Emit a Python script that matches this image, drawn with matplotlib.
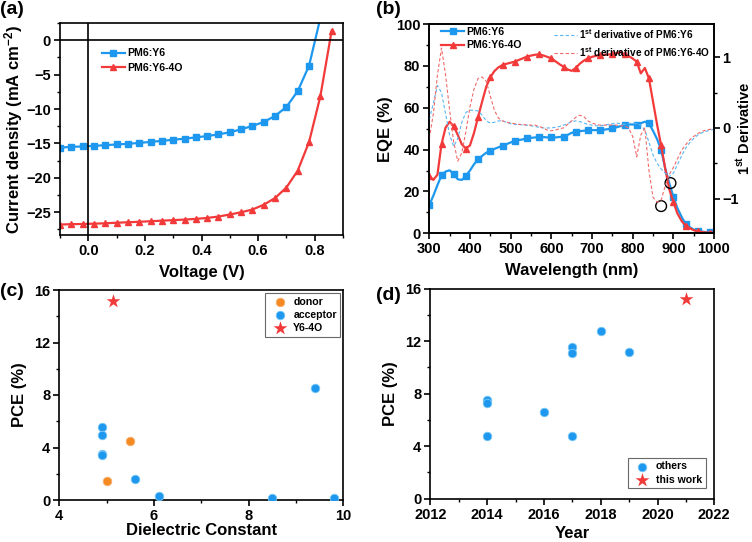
import numpy as np
import matplotlib
matplotlib.use("Agg")
import matplotlib.pyplot as plt
from matplotlib.ticker import MultipleLocator

plt.rcParams['font.family'] = ['Liberation Sans', 'DejaVu Sans']
plt.rcParams['font.weight'] = 'bold'
plt.rcParams['axes.labelweight'] = 'bold'
plt.rcParams['mathtext.default'] = 'regular'
plt.rcParams['axes.linewidth'] = 1.2
plt.rcParams['xtick.direction'] = 'out'
plt.rcParams['ytick.direction'] = 'out'

BLUE = '#1E98EE'
RED = '#F23A3A'
ORANGE = '#F58A22'
BLUE_D = '#5AB6F2'
RED_D = '#F26A6A'

# ---------------- (a) J-V data ----------------
voltage = [-0.10, -0.06, -0.02, 0.02, 0.06, 0.10, 0.14, 0.18, 0.22, 0.26, 0.30, 0.34,
           0.38, 0.42, 0.46, 0.50, 0.54, 0.58, 0.62, 0.66, 0.70, 0.74, 0.78, 0.82, 0.86]
j_y6 = [-15.6, -15.5, -15.43, -15.35, -15.25, -15.15, -15.05, -14.92, -14.78, -14.62, -14.47, -14.3,
        -14.12, -13.92, -13.68, -13.38, -12.95, -12.45, -11.88, -11.0, -9.7, -7.4, -3.7, 3.2, np.nan]
j_y64o = [-26.78, -26.73, -26.7, -26.65, -26.6, -26.52, -26.45, -26.38, -26.3, -26.22, -26.14, -26.06,
          -25.96, -25.82, -25.62, -25.32, -25.0, -24.6, -23.9, -22.93, -21.4, -18.95, -14.8, -8.15, 1.4]

# ---------------- (b) EQE data ----------------
wavelength = list(range(300, 1001, 10))
eqe_y6 = [13.5, 18, 23, 27.7, 29.5, 30.1, 28.3, 25.8, 25.5, 27.5, 30, 33, 35.3, 37, 38.5, 39.4,
          40.3, 41.1, 41.8, 42.6, 43.4, 44, 44.5, 44.9, 45.3, 45.6, 45.8, 46, 46, 45.8, 45.8, 45.8,
          46, 46.2, 47, 48, 48.5, 48.8, 49, 49.2, 49.3, 49.3, 49.3, 49.5, 49.8, 50.1, 50.6, 51.2,
          51.7, 52, 52, 51.7, 52.6, 53.3, 52.5, 49, 45, 40, 31, 24, 17.5, 12, 8, 4.5, 3, 1.8,
          1.1, 0.8, 0.6, 0.5, 0.4]
eqe_y64o = [27.5, 25.5, 28, 42.6, 50.5, 53.3, 51.2, 47, 42.5, 40.5, 42, 48, 55.6, 63, 70, 74.5,
            77.5, 79.3, 80.4, 81, 81.5, 82, 82.8, 83.6, 84.4, 84.9, 85.3, 85.5, 85, 84.3, 83.6, 82.2,
            80.8, 79.6, 78.3, 77.6, 79, 81, 82.5, 83.6, 84.3, 84.8, 85.2, 85.3, 85.4, 85.6, 86, 86.7,
            85.5, 84.7, 83.5, 82, 76.4, 79, 74, 63, 52, 42, 31, 21, 15, 9.5, 6, 3.7, 2.5, 1.5,
            1, 0.6, 0.4, 0.3, 0.3]
deriv_y6 = [0.12, 0.35, 0.6, 0.5, 0.2, -0.1, -0.26, -0.15, 0.08, 0.22, 0.25, 0.25, 0.24, 0.18, 0.1,
            0.07, 0.08, 0.1, 0.1, 0.08, 0.06, 0.05, 0.05, 0.04, 0.04, 0.03, 0.02, 0.01, 0.0, 0.0,
            0.0, 0.01, 0.02, 0.04, 0.06, 0.09, 0.1, 0.09, 0.07, 0.05, 0.04, 0.03, 0.03, 0.04, 0.05,
            0.06, 0.07, 0.06, 0.05, 0.06, 0.07, 0.06, 0.04, -0.03, -0.2, -0.38, -0.5, -0.58, -0.64,
            -0.69, -0.64, -0.52, -0.4, -0.29, -0.21, -0.15, -0.1, -0.07, -0.05, -0.03, -0.02]
deriv_y64o = [-0.15, 0.2, 0.75, 1.13, 0.75, 0.25, -0.2, -0.47, -0.35, -0.05, 0.3, 0.55, 0.7, 0.72,
              0.66, 0.45, 0.25, 0.14, 0.1, 0.08, 0.07, 0.06, 0.05, 0.05, 0.04, 0.04, 0.04, 0.02, 0.0,
              -0.03, -0.04, -0.03, -0.01, 0.0, 0.05, 0.1, 0.15, 0.18, 0.16, 0.1, 0.07, 0.05, 0.04,
              0.04, 0.04, 0.04, 0.04, 0.03, 0.03, 0.0, -0.12, -0.41, -0.1, 0.0, -0.6, -0.98, -1.05,
              -1.02, -0.82, -0.66, -0.56, -0.44, -0.32, -0.24, -0.17, -0.12, -0.08, -0.05, -0.03,
              -0.02, -0.01]
circle_wl = [870, 893]
circle_eqe = [13, 24]

# ---------------- (c) data ----------------
donor_k = [5.5, 5.0]
donor_pce = [4.52, 1.45]
acceptor_k = [4.9, 4.9, 4.9, 4.9, 5.59, 6.1, 8.5, 9.8, 9.4]
acceptor_pce = [5.56, 4.95, 3.52, 3.4, 1.57, 0.3, 0.12, 0.12, 8.5]
y64o_k = [5.13]
y64o_pce = [15.2]

# ---------------- (d) data ----------------
others_year = [2014, 2014, 2014, 2016, 2017, 2017, 2017, 2018, 2019]
others_pce = [4.8, 7.5, 7.27, 6.58, 4.8, 11.53, 11.1, 12.8, 11.2]
thiswork_year = [2021]
thiswork_pce = [15.2]

W, H = 752, 542
fig = plt.figure(figsize=(W / 100, H / 100), dpi=100)


def box(l, r, t, b):
    return [l / W, 1 - b / H, (r - l) / W, (b - t) / H]


TICK_FS = 10.5
LAB_FS = 12
LEG = {'weight': 'bold', 'size': 7.6}
LEG2 = {'weight': 'bold', 'size': 7.2}


def style(ax):
    ax.tick_params(axis='both', which='major', length=4, width=1.2, labelsize=TICK_FS, pad=2.5)
    ax.tick_params(axis='both', which='minor', length=2.5, width=1.0)
    for lab in ax.get_xticklabels() + ax.get_yticklabels():
        lab.set_fontweight('bold')


# (a)
axa = fig.add_axes(box(60, 343, 23, 235))
axa.plot(voltage, j_y6, color=BLUE, lw=1.6, marker='s', ms=4.5, label='PM6:Y6')
axa.plot(voltage, j_y64o, color=RED, lw=1.6, marker='^', ms=5, label='PM6:Y6-4O')
axa.axhline(0, color='black', lw=1.2)
axa.axvline(0, color='black', lw=1.2)
axa.set_xlim(-0.1, 0.9)
axa.set_ylim(-28.3, 2.5)
axa.xaxis.set_major_locator(MultipleLocator(0.2))
axa.xaxis.set_minor_locator(MultipleLocator(0.1))
axa.yaxis.set_major_locator(MultipleLocator(5))
axa.yaxis.set_minor_locator(MultipleLocator(2.5))
axa.xaxis.set_major_formatter(plt.FuncFormatter(lambda v, p: f'{v:.1f}'))
axa.set_xlabel('Voltage (V)', fontsize=LAB_FS, labelpad=5)
axa.set_ylabel('Current density (mA cm$^{-2}$)', fontsize=LAB_FS, labelpad=1)
style(axa)
axa.legend(loc='upper left', bbox_to_anchor=(0.147, 0.88), frameon=False,
           prop=LEG, handlelength=2.2, labelspacing=0.45,
           handletextpad=0.2, borderaxespad=0, borderpad=0)

# (b)
axb = fig.add_axes(box(429.3, 714, 24, 233.3))
l1, = axb.plot(wavelength, eqe_y6, color=BLUE, lw=1.6, marker='s', ms=4.5, markevery=3,
               label='PM6:Y6')
l2, = axb.plot(wavelength, eqe_y64o, color=RED, lw=1.6, marker='^', ms=5, markevery=3,
               label='PM6:Y6-4O')
axb.scatter(circle_wl, circle_eqe, s=60, facecolors='none', edgecolors='black', lw=1.0, zorder=5)
axb.set_xlim(300, 1000)
axb.set_ylim(0, 100)
axb.xaxis.set_major_locator(MultipleLocator(100))
axb.xaxis.set_minor_locator(MultipleLocator(50))
axb.yaxis.set_major_locator(MultipleLocator(20))
axb.yaxis.set_minor_locator(MultipleLocator(10))
axb.set_xlabel('Wavelength (nm)', fontsize=LAB_FS, labelpad=5)
axb.set_ylabel('EQE (%)', fontsize=LAB_FS, labelpad=2)
style(axb)
axb2 = axb.twinx()
l3, = axb2.plot(wavelength, deriv_y6, color=BLUE_D, lw=0.8, ls=(0, (3, 2)),
                label='1$^{st}$ derivative of PM6:Y6')
l4, = axb2.plot(wavelength, deriv_y64o, color=RED_D, lw=0.8, ls=(0, (3, 2)),
                label='1$^{st}$ derivative of PM6:Y6-4O')
axb2.set_ylim(-1.49, 1.47)
axb2.yaxis.set_major_locator(MultipleLocator(1))
axb2.yaxis.set_minor_locator(MultipleLocator(0.5))
style(axb2)
axb2.tick_params(axis='y', which='major', pad=2)
axb2.set_ylabel('1$^{st}$ Derivative', fontsize=10.5)
axb2.yaxis.set_label_coords(1.072, 0.5)
axb.tick_params(axis='y', which='both', right=False)
axb.legend(handles=[l1, l2], loc='upper left', bbox_to_anchor=(0.041, 0.985),
           frameon=False, prop=LEG, handlelength=2.2,
           labelspacing=0.3, handletextpad=0.2, borderaxespad=0, borderpad=0)
axb2.legend(handles=[l3, l4], loc='upper left', bbox_to_anchor=(0.438, 0.985),
            frameon=False, prop=LEG2, handlelength=2.3,
            labelspacing=0.4, handletextpad=0.2, borderaxespad=0, borderpad=0)

# (c)
axc = fig.add_axes(box(59.3, 343.3, 290, 500))
axc.scatter(donor_k, donor_pce, s=38, color=ORANGE, edgecolors='#F7B070', lw=0.6,
            label='donor', zorder=3)
axc.scatter(acceptor_k, acceptor_pce, s=38, color=BLUE, edgecolors='#7CC8F5', lw=0.6,
            label='acceptor', zorder=3)
axc.scatter(y64o_k, y64o_pce, s=110, marker='*', color=RED, lw=0, label='Y6-4O', zorder=3)
axc.set_xlim(4, 10)
axc.set_ylim(0, 16)
axc.xaxis.set_major_locator(MultipleLocator(2))
axc.xaxis.set_minor_locator(MultipleLocator(1))
axc.yaxis.set_major_locator(MultipleLocator(4))
axc.yaxis.set_minor_locator(MultipleLocator(2))
axc.set_xlabel('Dielectric Constant', fontsize=LAB_FS, labelpad=0)
axc.set_ylabel('PCE (%)', fontsize=LAB_FS, labelpad=5)
style(axc)
lc = axc.legend(loc='upper right', bbox_to_anchor=(0.99, 0.985), fancybox=False,
                edgecolor='#444444', prop=LEG,
                handletextpad=0.3, labelspacing=0.3, borderpad=0.35, borderaxespad=0)
lc.get_frame().set_linewidth(0.8)

# (d)
axd = fig.add_axes(box(430.3, 714.3, 288.7, 498.7))
axd.scatter(others_year, others_pce, s=38, color=BLUE, edgecolors='#7CC8F5', lw=0.6,
            label='others', zorder=3)
axd.scatter(thiswork_year, thiswork_pce, s=110, marker='*', color=RED, lw=0,
            label='this work', zorder=3)
axd.set_xlim(2012, 2022)
axd.set_ylim(0, 16)
axd.xaxis.set_major_locator(MultipleLocator(2))
axd.xaxis.set_minor_locator(MultipleLocator(1))
axd.yaxis.set_major_locator(MultipleLocator(4))
axd.yaxis.set_minor_locator(MultipleLocator(2))
axd.set_xlabel('Year', fontsize=LAB_FS, labelpad=3)
axd.set_ylabel('PCE (%)', fontsize=LAB_FS, labelpad=5)
style(axd)
ld = axd.legend(loc='lower right', bbox_to_anchor=(0.97, 0.05), fancybox=False,
                edgecolor='#444444', prop=LEG,
                handletextpad=0.3, labelspacing=0.3, borderpad=0.35, borderaxespad=0)
ld.get_frame().set_linewidth(0.8)

for txt, x, y in [('(a)', 0, 1), ('(b)', 376, 1), ('(c)', 0, 283), ('(d)', 376, 287)]:
    fig.text(x / W, 1 - y / H, txt, fontsize=14, fontweight='bold', ha='left', va='top')

fig.savefig('out.png', dpi=100)
